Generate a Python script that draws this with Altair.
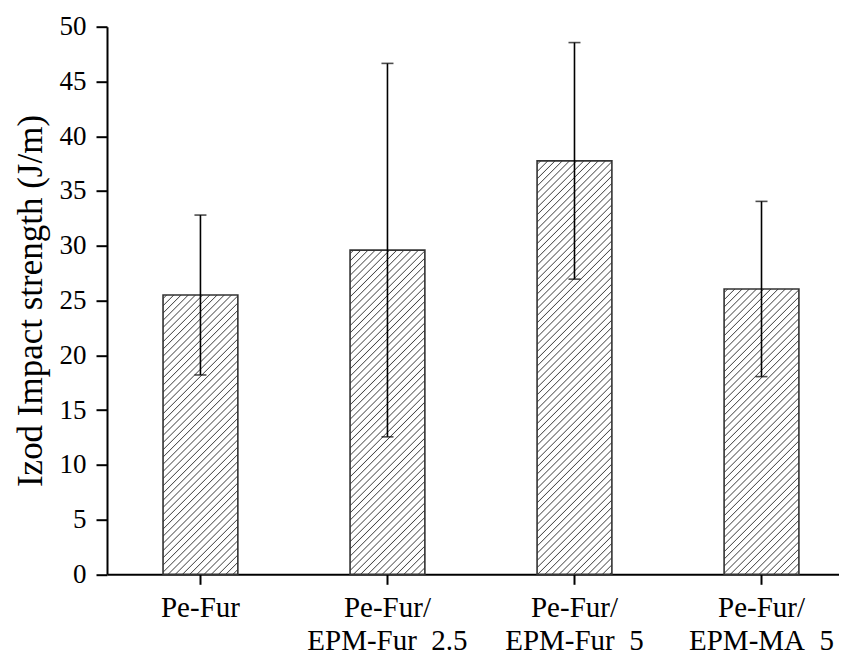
import altair as alt
import pandas as pd

# ---- data ----
categories = ["Pe-Fur", "Pe-Fur/\nEPM-Fur\u00a0\u00a02.5", "Pe-Fur/\nEPM-Fur\u00a0\u00a05", "Pe-Fur/\nEPM-MA\u00a0\u00a05"]
means = [25.5, 29.6, 37.75, 26.05]
errors = [7.3, 17.05, 10.8, 8.0]
y_ticks = [i * 2.5 for i in range(21)]

df = pd.DataFrame({"cat": categories, "mean": means, "err": errors})

# ---- layout constants ----
W, H = 732, 547.6
STEP = 187.0
P_INNER = 0.6
P_OUTER = 0.257
ALIGN = 0.583
BAR_W = STEP * (1 - P_INNER)
PX_PER_UNIT = H / 50.0
FONT = "Liberation Serif"


def hatch_gradient(w, h, period=7.2, half=1.1, color="#4a4a4a"):
    s = w + h
    stops = [alt.GradientStop(offset=0, color="white")]
    c = period / 2
    last = 0.0
    while c - half < s:
        for off, col in (((c - half) / s, "white"), (c / s, color), ((c + half) / s, "white")):
            off = min(1.0, max(last, off))
            stops.append(alt.GradientStop(offset=off, color=col))
            last = off
        c += period
    k = s / (w * w + h * h)
    return alt.LinearGradient(gradient="linear", stops=stops, x1=0, y1=0, x2=k * w, y2=k * h)


x_enc = alt.X(
    "cat:N",
    sort=categories,
    title=None,
    scale=alt.Scale(paddingInner=P_INNER, paddingOuter=P_OUTER, align=ALIGN),
    axis=alt.Axis(
        labelExpr="split(datum.label, '\\n')",
        labelAngle=0,
        labelFont=FONT,
        labelFontSize=29,
        labelColor="black",
        labelLineHeight=33,
        labelPadding=9,
        labelBaseline="top",
        tickSize=10,
        tickWidth=2,
        tickColor="black",
        domainColor="black",
        domainWidth=2,
        grid=False,
    ),
)

y_scale = alt.Scale(domain=[0, 50], nice=False, zero=True)
y_axis = alt.Axis(
    values=y_ticks,
    labelExpr="datum.value % 5 === 0 ? datum.label : ''",
    tickSize={"condition": {"test": "datum.value % 5 === 0", "value": 11}, "value": 7},
    tickWidth=2,
    tickColor="black",
    domainColor="black",
    domainWidth=2,
    labelFont=FONT,
    labelFontSize=27,
    labelColor="black",
    labelPadding=10,
    title="Izod Impact strength (J/m)",
    titleFont=FONT,
    titleFontSize=35,
    titleFontWeight="normal",
    titleColor="black",
    titlePadding=11,
    grid=False,
)

layers = []
for i, c in enumerate(categories):
    grad = hatch_gradient(BAR_W, means[i] * PX_PER_UNIT)
    layers.append(
        alt.Chart(df)
        .transform_filter(alt.datum.cat == c)
        .mark_bar(fill=grad, stroke="#333333", strokeWidth=1.6)
        .encode(x=x_enc, y=alt.Y("mean:Q", scale=y_scale, axis=y_axis))
    )

err_base = alt.Chart(df).transform_calculate(
    lo="datum.mean - datum.err", hi="datum.mean + datum.err"
)
rule = err_base.mark_rule(color="black", strokeWidth=1.6).encode(
    x=x_enc, y=alt.Y("lo:Q", scale=y_scale), y2="hi:Q"
)
cap_hi = err_base.mark_tick(color="black", thickness=1.6, size=12).encode(
    x=x_enc, y=alt.Y("hi:Q", scale=y_scale)
)
cap_lo = err_base.mark_tick(color="black", thickness=1.6, size=12).encode(
    x=x_enc, y=alt.Y("lo:Q", scale=y_scale)
)

chart = (
    alt.layer(*layers, rule, cap_hi, cap_lo)
    .properties(
        width=W,
        height=H,
        padding={"left": 99, "top": 18.7, "right": 0, "bottom": 86},
        autosize=alt.AutoSizeParams(type="none"),
        background="white",
    )
    .configure_view(strokeOpacity=0)
)

chart.save("out.html", embed_options={"renderer": "svg", "actions": False})
